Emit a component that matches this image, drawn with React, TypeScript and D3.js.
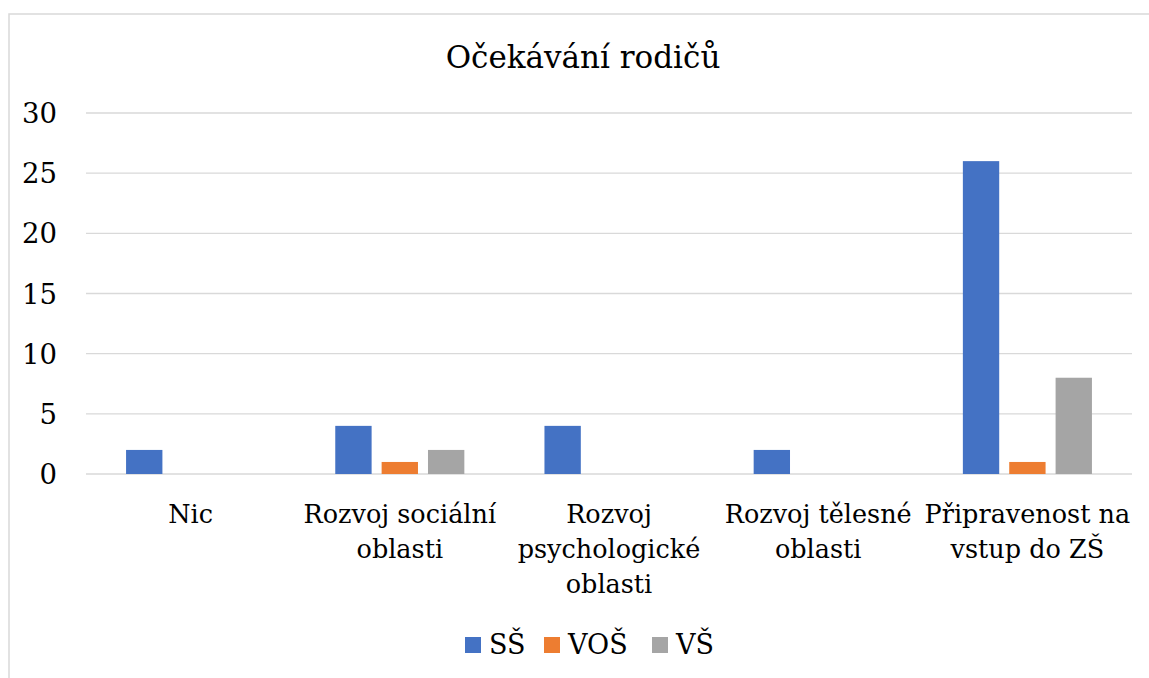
import * as d3 from "d3";

const WIDTH = 1149;
const HEIGHT = 678;
const MARGIN = { top: 113, right: 17, bottom: 204, left: 86 };

const title = "Očekávání rodičů";
const categories = ["Nic", "Rozvoj sociální oblasti", "Rozvoj psychologické oblasti", "Rozvoj tělesné oblasti", "Připravenost na vstup do ZŠ"];
// line breaks of the category labels as in the reference
const categoryLines = [
  ["Nic"],
  ["Rozvoj sociální", "oblasti"],
  ["Rozvoj", "psychologické", "oblasti"],
  ["Rozvoj tělesné", "oblasti"],
  ["Připravenost na", "vstup do ZŠ"],
];
const seriesNames = ["SŠ", "VOŠ", "VŠ"];
const seriesColors = ["#4472C4", "#ED7D31", "#A5A5A5"];
const ssValues = [2, 4, 4, 2, 26];
const vosValues = [0, 1, 0, 0, 1];
const vsValues = [0, 2, 0, 0, 8];
const yTicks = [0, 5, 10, 15, 20, 25, 30];

// the Times aliases resolve to a sans face here, DejaVu Serif is the only serif one
const FONT = "DejaVu Serif";

export default function App() {
  const boundsWidth = WIDTH - MARGIN.left - MARGIN.right;
  const boundsHeight = HEIGHT - MARGIN.top - MARGIN.bottom;

  const data = categories.map((c, i) => ({
    category: c,
    values: [ssValues[i], vosValues[i], vsValues[i]],
  }));

  // outer band: gap between groups ~ 2.2x bar width
  const xScale = d3
    .scaleBand()
    .domain(categories)
    .range([0, boundsWidth])
    .paddingInner(0.383)
    .paddingOuter(0.1915);

  const xInner = d3
    .scaleBand()
    .domain(seriesNames)
    .range([0, xScale.bandwidth()])
    .paddingInner(0.216)
    .paddingOuter(0);

  const yScale = d3.scaleLinear().domain([0, 30]).range([boundsHeight, 0]);

  const grid = yTicks.map((t) => (
    <line
      key={t}
      x1={0}
      x2={boundsWidth}
      y1={yScale(t)}
      y2={yScale(t)}
      stroke="#d9d9d9"
      strokeWidth={1.3}
    />
  ));

  const yLabels = yTicks.map((t) => (
    <text key={t} x={-29} y={yScale(t) + 10} textAnchor="end" fontSize={27.5} fontFamily={FONT} fill="#000">
      {t}
    </text>
  ));

  const bars = data.map((d) =>
    d.values.map((v, j) => {
      if (v === 0) return null;
      const x = (xScale(d.category) ?? 0) + (xInner(seriesNames[j]) ?? 0);
      return (
        <rect
          key={d.category + j}
          x={x}
          y={yScale(v)}
          width={xInner.bandwidth()}
          height={boundsHeight - yScale(v)}
          fill={seriesColors[j]}
        />
      );
    })
  );

  const xLabels = categories.map((c, i) => {
    const cx = (xScale(c) ?? 0) + xScale.bandwidth() / 2;
    return (
      <text key={c} x={cx} y={boundsHeight + 48.5} textAnchor="middle" fontSize={25.5} fontFamily={FONT} fill="#000">
        {categoryLines[i].map((line, k) => (
          <tspan key={k} x={cx} dy={k === 0 ? 0 : 35}>
            {line}
          </tspan>
        ))}
      </text>
    );
  });

  // legend
  const legendX = [465, 544, 652];
  const legend = seriesNames.map((name, i) => (
    <g key={name} transform={`translate(${legendX[i]},637)`}>
      <rect x={0} y={0} width={16} height={16} fill={seriesColors[i]} />
      <text x={24} y={16.5} fontSize={27} fontFamily={FONT} fill="#000">
        {name}
      </text>
    </g>
  ));

  return (
    <svg width={WIDTH} height={HEIGHT} style={{ position: "absolute", left: 0, top: 0, background: "#fff" }}>
      <rect x={9} y={14} width={1160} height={700} fill="#fff" stroke="#d9d9d9" strokeWidth={1.5} />
      <text x={583} y={68} textAnchor="middle" fontSize={31} fontFamily={FONT} fill="#000">
        {title}
      </text>
      <g transform={`translate(${MARGIN.left},${MARGIN.top})`}>
        {grid}
        {bars}
        {yLabels}
        {xLabels}
      </g>
      {legend}
    </svg>
  );
}
